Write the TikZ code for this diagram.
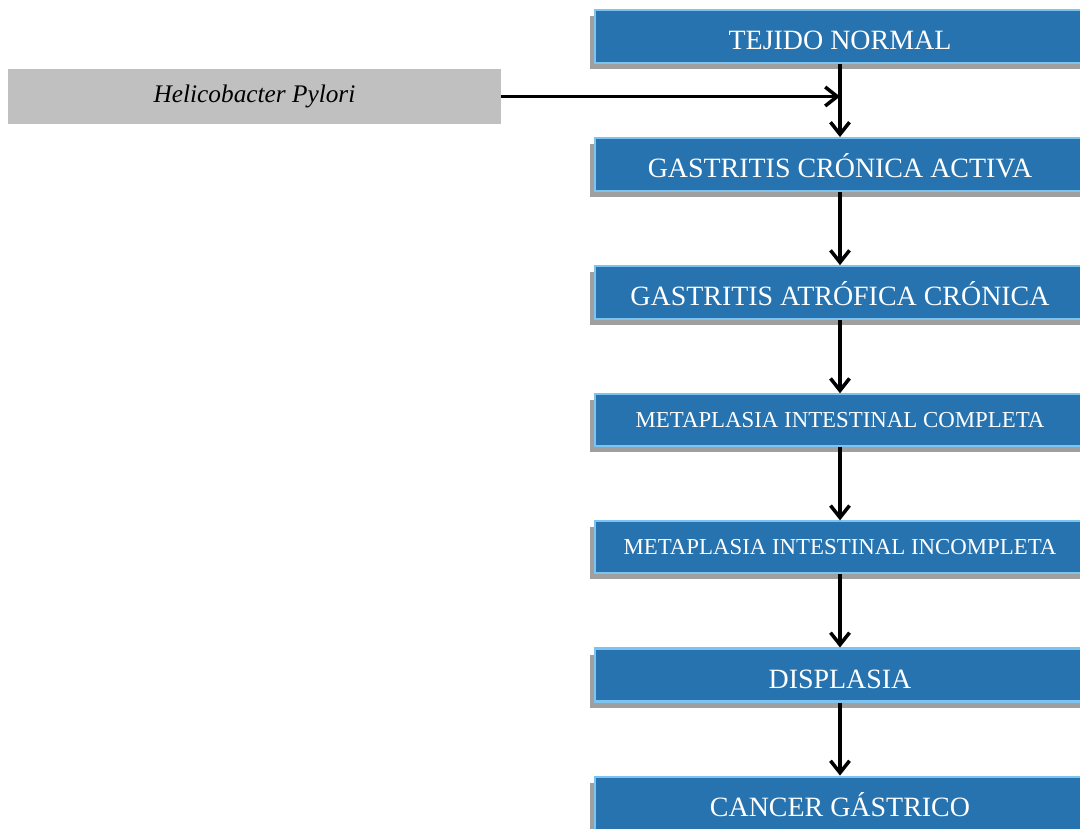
\documentclass[tikz,border=0pt]{standalone}
\usepackage{fontspec}
\setmainfont{Liberation Serif}
\usepackage{tikz}
\usetikzlibrary{arrows.meta,positioning,shadows}
\definecolor{stepblue}{RGB}{38,115,175}
\definecolor{edgeblue}{RGB}{125,195,240}
\definecolor{causegray}{RGB}{192,192,192}
\tikzset{
  stage/.style={rectangle,draw=edgeblue,line width=1.2pt,fill=stepblue,text=white,
              minimum width=9.8cm,minimum height=1.06cm,align=center,font=\fontsize{15.9}{18}\selectfont,
              text height=15pt,text depth=0pt,
              drop shadow={shadow xshift=-0.1cm,shadow yshift=-0.12cm,fill=black!50,opacity=0.75}},
  stagesm/.style={stage,minimum height=1.04cm,font=\fontsize{13}{15}\selectfont,text height=8.6pt},
  cause/.style={rectangle,fill=causegray,minimum width=9.86cm,minimum height=1.1cm,
              font=\fontsize{14.4}{16}\selectfont\itshape},
  flow/.style={-{Straight Barb[length=2.4mm,width=3.8mm]},line width=2pt,draw=black},
}
\begin{document}
\begin{tikzpicture}[node distance=1.46cm]
  \clip (0,0) rectangle (21.6,-16.58);
  \fill[white] (0,0) rectangle (21.6,-16.58);
  \node[stage] (tejido) at (16.8,-0.73) {TEJIDO NORMAL};
  \node[stage,below=of tejido] (activa) {GASTRITIS CRÓNICA ACTIVA};
  \node[stage,below=of activa] (atrofica) {GASTRITIS ATRÓFICA CRÓNICA};
  \node[stagesm,below=of atrofica] (completa) {METAPLASIA INTESTINAL COMPLETA};
  \node[stagesm,below=of completa] (incompleta) {METAPLASIA INTESTINAL INCOMPLETA};
  \node[stage,below=of incompleta] (displasia) {DISPLASIA};
  \node[stage,below=of displasia] (cancer) {CANCER GÁSTRICO};
  \node[cause] (hp) at (5.09,-1.93) {Helicobacter Pylori};
  \coordinate (join) at (tejido.south |- hp.east);

  \draw[flow] (tejido) -- (activa);
  \draw[flow] (hp) -- (join);
  \draw[flow] (activa) -- (atrofica);
  \draw[flow] (atrofica) -- (completa);
  \draw[flow] (completa) -- (incompleta);
  \draw[flow] (incompleta) -- (displasia);
  \draw[flow] (displasia) -- (cancer);
\end{tikzpicture}
\end{document}
